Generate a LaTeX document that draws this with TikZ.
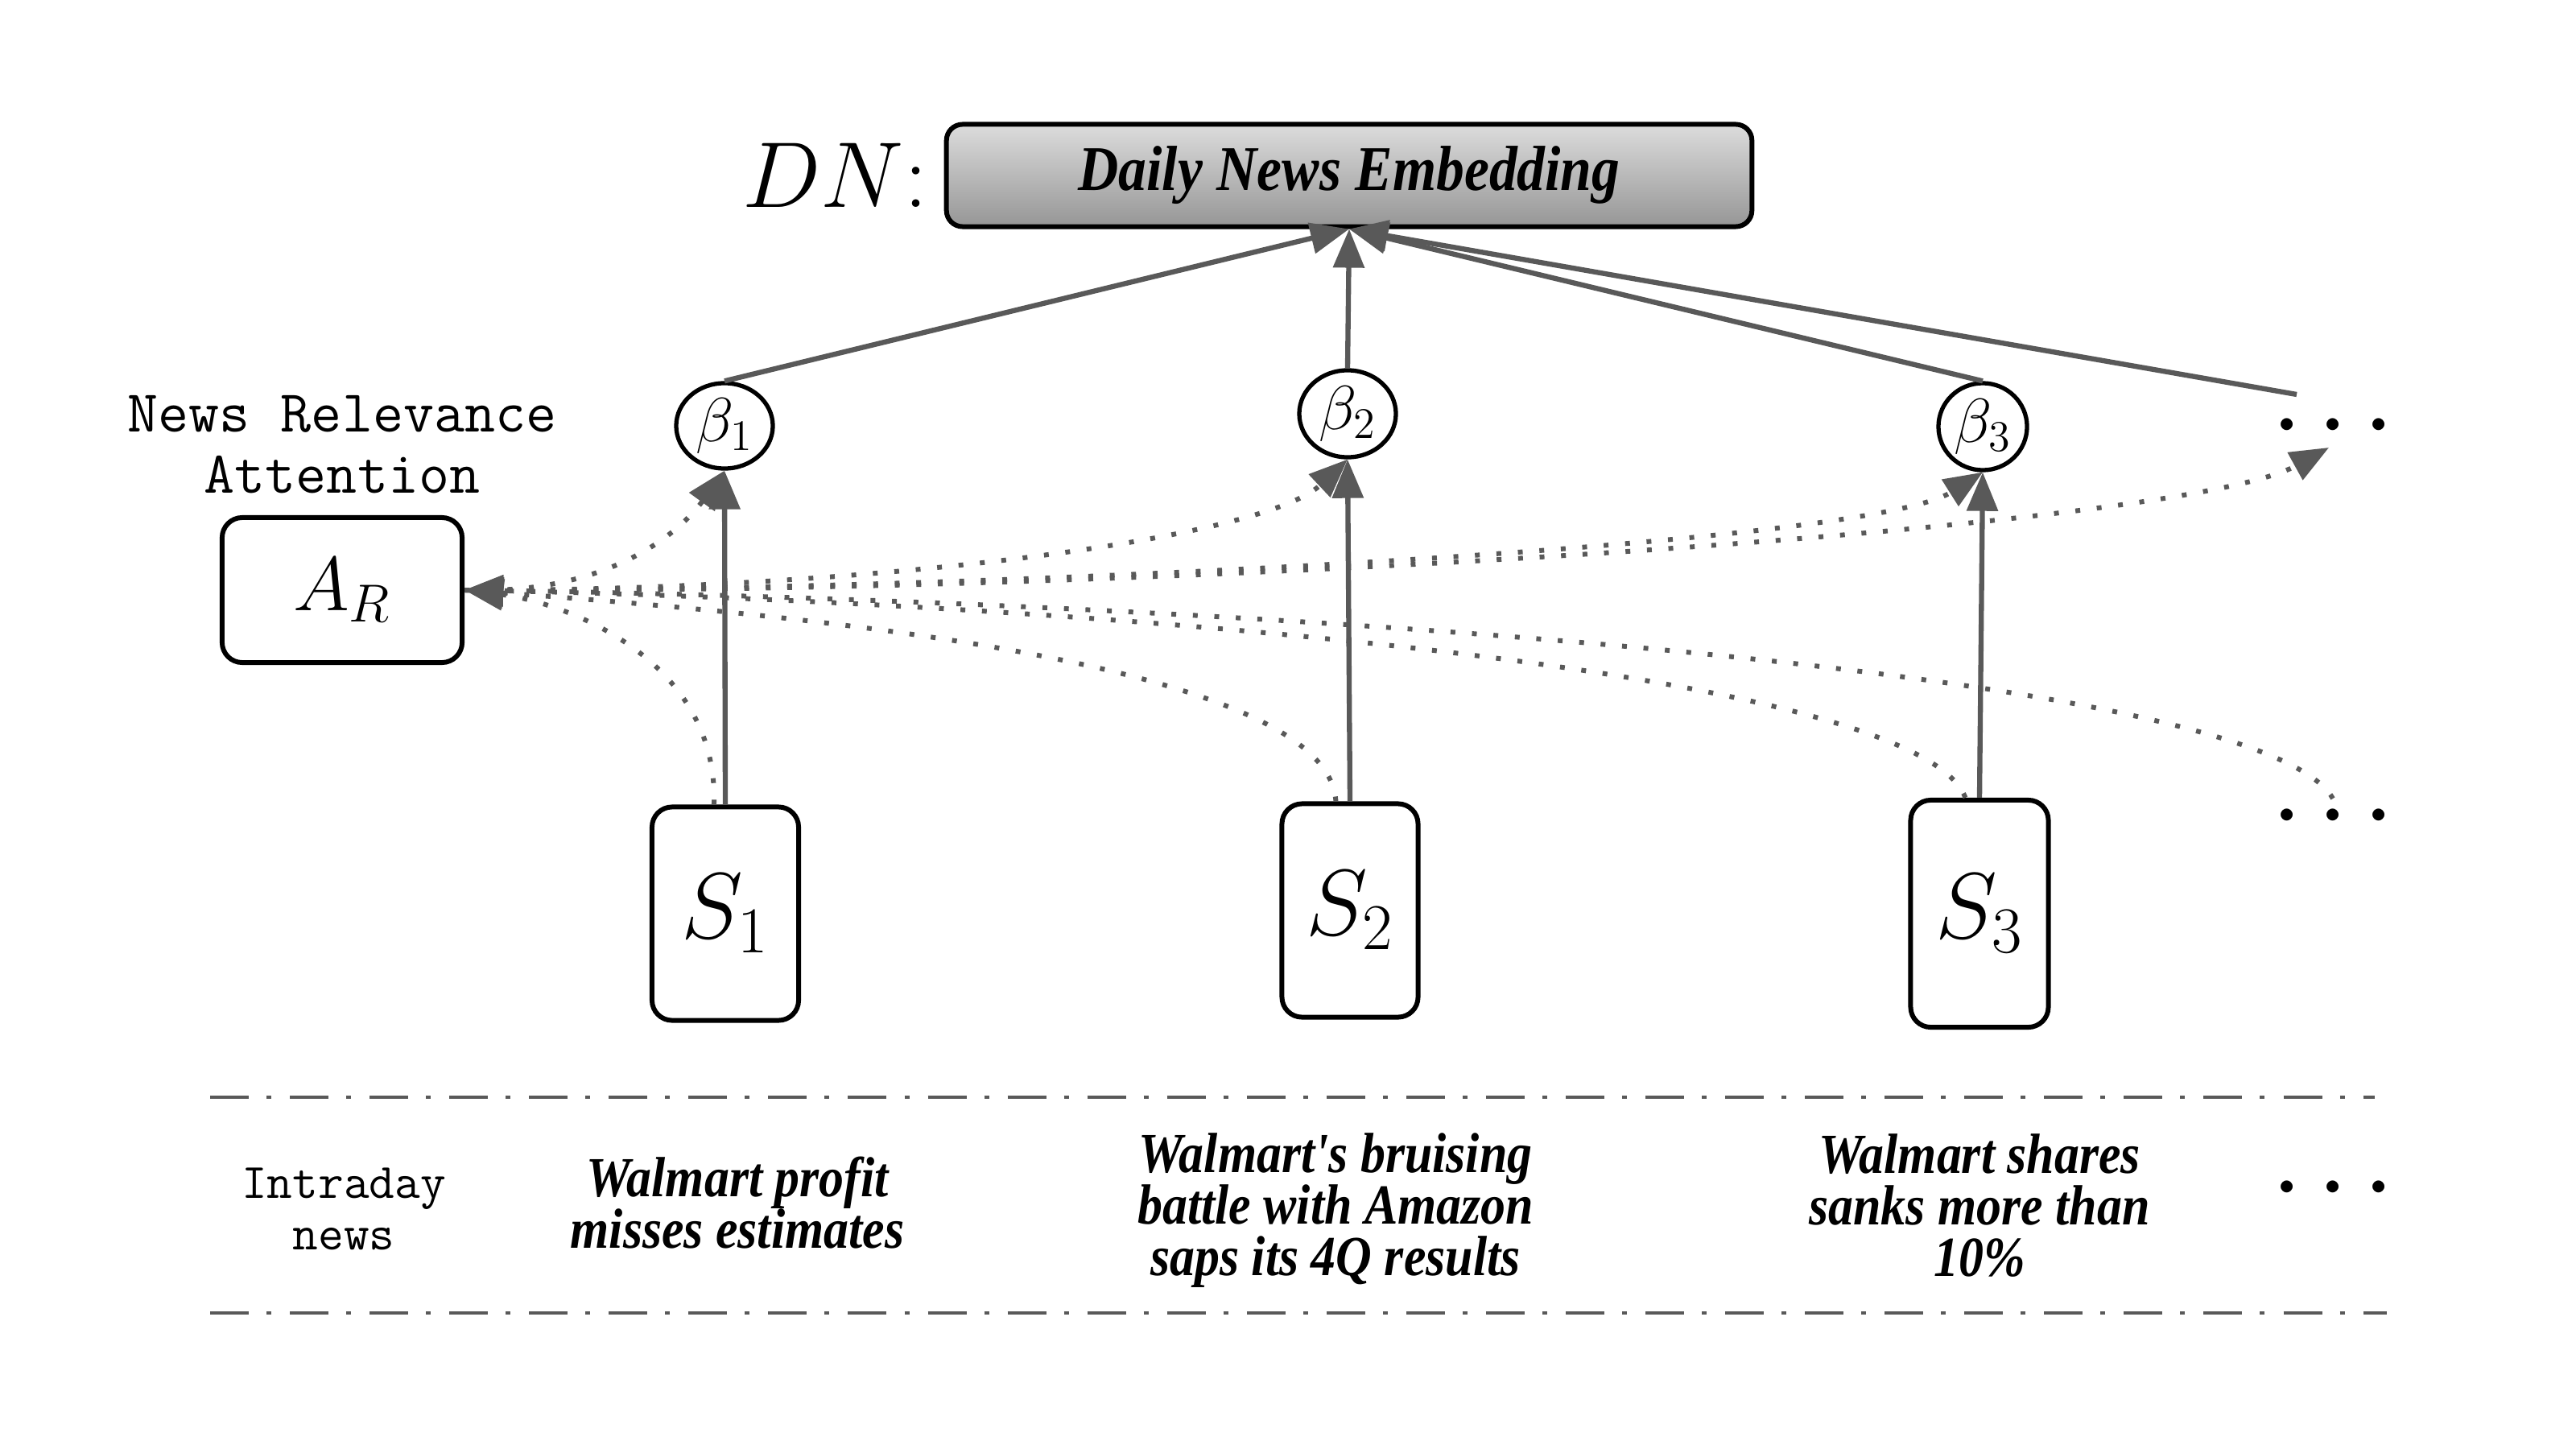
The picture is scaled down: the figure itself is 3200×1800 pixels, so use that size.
\RequirePackage{fix-cm}
\documentclass[tikz,border=0pt]{standalone}
\usepackage{fontspec}
\newfontfamily\newsfont[FakeStretch=0.88]{Liberation Serif}
\usetikzlibrary{arrows.meta,shapes.geometric}
\definecolor{linegray}{HTML}{595959}
\definecolor{shadetop}{HTML}{DCDCDC}
\definecolor{shadebot}{HTML}{969696}
\newcommand{\bigdots}{$\cdot$\hspace{0.18cm}$\cdot$\hspace{0.18cm}$\cdot$}
\begin{document}
\begin{tikzpicture}[x=0.01cm,y=-0.01cm,
  box/.style={draw=black, line width=1.7pt, rounded corners=0.25cm, inner sep=0pt},
  sbox/.style={box, font=\fontsize{33}{36}\selectfont},
  betanode/.style={ellipse, draw=black, line width=1.5pt, inner sep=0pt, minimum width=1.2cm, minimum height=1.06cm, font=\fontsize{22}{24}\selectfont},
  conn/.style={draw=linegray, line width=1.8pt, -{Triangle[length=4.8mm,width=3.8mm]}},
  dotconn/.style={draw=linegray, line width=1.7pt, dash pattern=on 1.7pt off 5.9pt, -{Triangle[length=4.8mm,width=3.8mm]}},
  sepline/.style={draw=linegray, line width=1.3pt, dash pattern=on 0.48cm off 0.22cm on 0.06cm off 0.23cm},
  newstext/.style={align=center, inner sep=0pt, font=\newsfont\bfseries\itshape\fontsize{20}{18.2}\selectfont},
  monotext/.style={align=center, inner sep=0pt},
  dotstext/.style={inner sep=0pt, font=\fontsize{40}{40}\selectfont}
]
\useasboundingbox (0,0) rectangle (3200,1800);

% top embedding box
\node[box, rounded corners=0.2cm, minimum width=10cm, minimum height=1.27cm,
      top color=shadetop, bottom color=shadebot,
      font=\newsfont\bfseries\itshape\fontsize{22.5}{26}\selectfont] (dn) at (1676,218) {Daily News Embedding};
\node[anchor=east, inner sep=0pt, font=\fontsize{33}{38}\selectfont] (dnlabel) at ([xshift=-0.2cm]dn.west) {$DN{:}$};

% attention weights
\node[betanode] (b1) at (900,529) {$\beta_1$};
\node[betanode, minimum height=1.08cm] (b2) at (1674,514) {$\beta_2$};
\node[betanode, minimum width=1.1cm, minimum height=1.08cm] (b3) at (2463,530) {$\beta_3$};
\node[dotstext] (dotsU) at (2898,531) {\bigdots};

% attention module
\node[monotext, font=\ttfamily\fontsize{21}{21.5}\selectfont] (nra) at (425,552) {News Relevance\\Attention};
\node[box, minimum width=2.98cm, minimum height=1.8cm, font=\fontsize{27}{30}\selectfont] (ar) at (425,733) {$A_R$};

% sentence boxes
\node[sbox, minimum width=1.82cm, minimum height=2.65cm] (s1) at (901,1135) {$S_1$};
\node[sbox, minimum width=1.69cm, minimum height=2.65cm] (s2) at (1677,1131) {$S_2$};
\node[sbox, minimum width=1.71cm, minimum height=2.82cm] (s3) at (2459,1135) {$S_3$};
\node[dotstext] (dotsM) at (2898,1016) {\bigdots};

% helper coordinates
\coordinate (u4) at (2853,490);
\coordinate (u4in) at (2893,556);
\coordinate (m4) at (2898,992);

% solid connectors
\draw[conn] (b1.north) -- (dn.south);
\draw[conn] (b2.north) -- (dn.south);
\draw[conn] (b3.north) -- (dn.south);
\draw[conn] (u4) -- (dn.south);
\draw[conn] (s1.north) -- (b1.south);
\draw[conn] (s2.north) -- (b2.south);
\draw[conn] (s3.north) -- (b3.south);

% dotted: sentences into attention
\draw[dotconn] ([xshift=-4]s1.north) .. controls (893,818) and (700,748) .. (ar.east);
\draw[dotconn] ([xshift=-5]s2.north) .. controls (1650,824) and (1000,764) .. (ar.east);
\draw[dotconn] ([xshift=-5]s3.north) .. controls (2380,826) and (1300,748) .. (ar.east);
\draw[dotconn] (m4) .. controls (2800,820) and (1400,745) .. (ar.east);

% dotted: attention out to weights
\draw[dotconn] (ar.east) .. controls (780,740) and (860,640) .. (b1.south);
\draw[dotconn] (ar.east) .. controls (1036,735) and (1564,674) .. (b2.south);
\draw[dotconn] (ar.east) .. controls (1200,735) and (2315,680) .. (b3.south);
\draw[dotconn] (ar.east) .. controls (1400,738) and (2703,661) .. (u4in);

% separators
\coordinate (l1a) at (261,1363);
\coordinate (l1b) at (2950,1363);
\coordinate (l2a) at (261,1631);
\coordinate (l2b) at (2965,1631);
\draw[sepline] (l1a) -- (l1b);
\draw[sepline] (l2a) -- (l2b);

% intraday news
\node[monotext, font=\ttfamily\fontsize{17.5}{18}\selectfont] (intra) at (427,1502) {Intraday\\news};
\node[newstext] (n1) at (916,1494) {Walmart profit\\misses estimates};
\node[newstext] (n2) at (1659,1504) {Walmart's bruising\\battle with Amazon\\saps its 4Q results};
\node[newstext] (n3) at (2459,1498) {Walmart shares\\sanks more than\\10\%};
\node[dotstext] (dotsB) at (2898,1478) {\bigdots};
\end{tikzpicture}
\end{document}
